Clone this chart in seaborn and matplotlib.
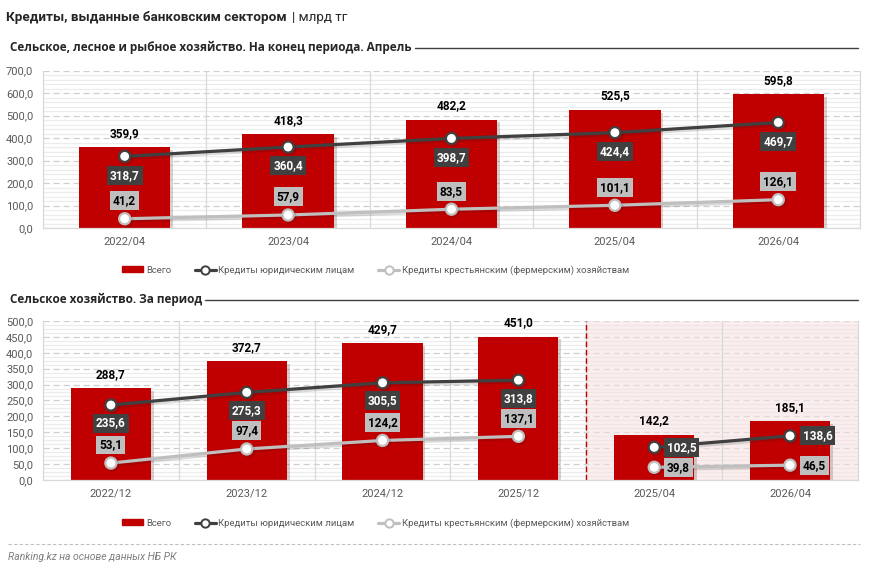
import numpy as np
import matplotlib.pyplot as plt
import matplotlib.patheffects as pe
import seaborn as sns
from matplotlib.lines import Line2D
from matplotlib.patches import Patch

# %% data (млрд тг)
top_periods = ["2022/04", "2023/04", "2024/04", "2025/04", "2026/04"]
top_total = [359.9, 418.3, 482.2, 525.5, 595.8]
top_legal = [318.7, 360.4, 398.7, 424.4, 469.7]
top_farm = [41.2, 57.9, 83.5, 101.1, 126.1]

bot_periods = ["2022/12", "2023/12", "2024/12", "2025/12", "2025/04", "2026/04"]
bot_total = [288.7, 372.7, 429.7, 451.0, 142.2, 185.1]
bot_legal = [235.6, 275.3, 305.5, 313.8, 102.5, 138.6]
bot_farm = [53.1, 97.4, 124.2, 137.1, 39.8, 46.5]

legend_labels = ["Всего", "Кредиты юридическим лицам",
                 "Кредиты крестьянским (фермерским) хозяйствам"]

RED = "#C00000"
DARK = "#404040"
LIGHT = "#BFBFBF"
GRID = "#D9D9D9"
TXT = "#595959"

sns.set_theme(style="white")
plt.rcParams["font.family"] = ["Roboto", "DejaVu Sans"]

fig = plt.figure(figsize=(8.72, 5.68), dpi=100)
ax1 = fig.add_axes([0.0493, 0.5986, 0.9369, 0.2769])
ax2 = fig.add_axes([0.0493, 0.155, 0.9346, 0.280])


def fmt(v):
    return f"{v:.1f}".replace(".", ",")


def style_axis(ax, n, ymax, major, minor):
    ax.set_xlim(-0.5, n - 0.5)
    ax.set_ylim(0, ymax)
    ax.set_yticks(np.arange(0, ymax + 1, major))
    ax.set_yticks(np.arange(0, ymax + 0.1, minor), minor=True)
    ax.yaxis.set_major_formatter(lambda v, p: fmt(v))
    ax.grid(axis="y", which="major", color="#CFCFCF", ls=(0, (5, 3)), lw=0.9)
    ax.grid(axis="y", which="minor", color="#ECECEC", lw=0.9)
    ax.set_axisbelow(True)
    for s in ["left", "bottom", "right"]:
        ax.spines[s].set_color(GRID)
        ax.spines[s].set_linewidth(0.9)
    ax.spines["top"].set_visible(False)
    ax.tick_params(axis="y", which="both", length=0, labelsize=8, colors=TXT, pad=7)
    ax.tick_params(axis="x", which="both", length=0, labelsize=8, colors=TXT, pad=6)
    ax.set_xlabel("")
    ax.set_ylabel("")


def separators(ax, n):
    for x in np.arange(0.5, n - 0.5):
        ax.axvline(x, color=GRID, lw=0.9, zorder=0.7)


def draw_bars(ax, periods, total, width):
    sns.barplot(x=periods, y=total, color=RED, saturation=1, width=width, ax=ax, zorder=2)
    for p in ax.patches:
        p.set_path_effects([pe.SimplePatchShadow(offset=(2, -2), alpha=0.18), pe.Normal()])
        p.set_edgecolor("none")
    for i, v in enumerate(total):
        ax.annotate(fmt(v), (i, v), xytext=(0, 10), textcoords="offset points",
                    ha="center", va="center", fontsize=8.5, fontweight="bold",
                    color="black", zorder=6)


def draw_line(ax, xs, ys, color, edge):
    sns.lineplot(x=xs, y=ys, color=color, lw=2.3, marker="o", markersize=8,
                 markerfacecolor="white", markeredgecolor=edge, markeredgewidth=1.6,
                 ax=ax, zorder=4, legend=False,
                 path_effects=[pe.SimpleLineShadow(offset=(1.5, -1.5), alpha=0.15), pe.Normal()])


def box_label(ax, x, v, dark, dx=0, dy=0, ha="center"):
    ax.annotate(fmt(v), (x, v), xytext=(dx, dy), textcoords="offset points",
                ha=ha, va="center", fontsize=8.5, fontweight="bold",
                color="white" if dark else "black",
                bbox=dict(boxstyle="square,pad=0.25", fc=DARK if dark else LIGHT, ec="none"),
                zorder=6)


# %% top chart
draw_bars(ax1, top_periods, top_total, 0.56)
idx = np.arange(len(top_periods))
draw_line(ax1, idx, top_legal, DARK, DARK)
draw_line(ax1, idx, top_farm, LIGHT, LIGHT)
for i in idx:
    box_label(ax1, i, top_legal[i], True, dy=-13.5)
    box_label(ax1, i, top_farm[i], False, dy=13)
style_axis(ax1, 5, 700, 100, 20)
separators(ax1, 5)

# %% bottom chart
draw_bars(ax2, bot_periods, bot_total, 0.59)
ax2.axvspan(3.5, 5.5, color="#F6E0E0", alpha=0.55, zorder=0.6, lw=0)
ax2.axvline(3.5, color=RED, lw=1, ls=(0, (4, 2)), zorder=0.8)
bidx = np.arange(len(bot_periods))
draw_line(ax2, bidx[:4], bot_legal[:4], DARK, DARK)
draw_line(ax2, bidx[:4], bot_farm[:4], LIGHT, LIGHT)
draw_line(ax2, bidx[4:], bot_legal[4:], DARK, DARK)
draw_line(ax2, bidx[4:], bot_farm[4:], LIGHT, LIGHT)
for i in bidx:
    if i < 4:
        box_label(ax2, i, bot_legal[i], True, dy=-13)
        box_label(ax2, i, bot_farm[i], False, dy=13)
    else:
        box_label(ax2, i, bot_legal[i], True, dx=9, ha="left")
        box_label(ax2, i, bot_farm[i], False, dx=9, ha="left")
style_axis(ax2, 6, 500, 50, 12.5)
separators(ax2, 6)

# %% legends
handles = [
    Patch(color=RED),
    Line2D([], [], color=DARK, lw=2.3, marker="o", markersize=6,
           markerfacecolor="white", markeredgecolor=DARK, markeredgewidth=1.4),
    Line2D([], [], color=LIGHT, lw=2.3, marker="o", markersize=6,
           markerfacecolor="white", markeredgecolor=LIGHT, markeredgewidth=1.4),
]
for yc in [1 - 270 / 568, 1 - 523 / 568]:
    fig.legend(handles, legend_labels, loc="center", bbox_to_anchor=(0.431, yc), ncol=3,
               frameon=False, fontsize=6.8, labelcolor=TXT, columnspacing=2.5,
               handlelength=2.2, handletextpad=0.3, handleheight=0.6)

# %% titles
fig.canvas.draw()
r = fig.canvas.get_renderer()
t = fig.text(6 / 872, 1 - 18 / 568, "Кредиты, выданные банковским сектором",
             fontsize=9.7, fontweight="bold", color="#262626", va="center")
bb = t.get_window_extent(r)
fig.text((bb.x1 + 5) / 872, 1 - 18 / 568, "| млрд тг", fontsize=9.7, color="#262626",
         va="center")

for ytop, sub in [(47, "Сельское, лесное и рыбное хозяйство. На конец периода. Апрель"),
                  (299, "Сельское хозяйство. За период")]:
    st = fig.text(10 / 872, 1 - ytop / 568, sub, fontsize=8.5, fontweight="bold",
                  color="#262626", va="center", family=["Open Sans", "DejaVu Sans"])
    sb = st.get_window_extent(r)
    fig.add_artist(Line2D([(sb.x1 + 3) / 872, 858 / 872], [1 - (ytop + 1) / 568] * 2,
                          color="#404040", lw=1))

# %% footer
fig.add_artist(Line2D([8 / 872, 860 / 872], [1 - 544 / 568] * 2, color="#BFBFBF",
                      lw=0.8, ls=(0, (3, 2))))
fig.text(8 / 872, 1 - 557 / 568, "Ranking.kz на основе данных НБ РК", fontsize=7.5,
         style="italic", color="#7F7F7F", va="center")

fig.savefig("out.png", dpi=100)
